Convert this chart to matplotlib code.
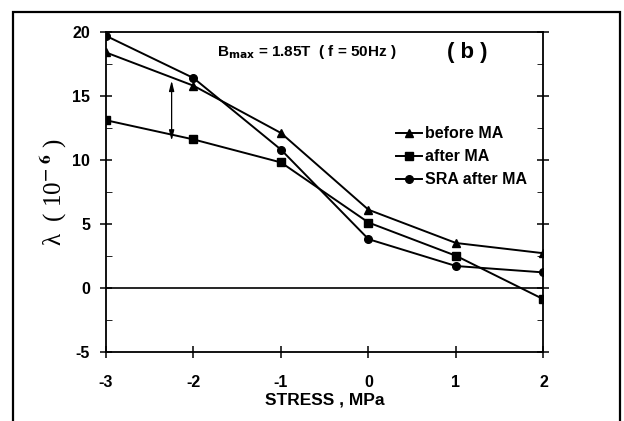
import matplotlib.pyplot as plt
from matplotlib.patches import Rectangle
from matplotlib.ticker import MultipleLocator

# data
stress = [-3, -2, -1, 0, 1, 2]
before_ma = [18.4, 15.8, 12.1, 6.1, 3.5, 2.7]
after_ma = [13.1, 11.6, 9.8, 5.1, 2.5, -0.9]
sra_after_ma = [19.7, 16.4, 10.8, 3.8, 1.7, 1.2]

plt.rcParams['font.family'] = ['Liberation Sans', 'DejaVu Sans']
plt.rcParams['font.weight'] = 'bold'
plt.rcParams['axes.unicode_minus'] = False

fig = plt.figure(figsize=(6.24, 4.21), dpi=100)
ax = fig.add_axes([106 / 624, 1 - 351.7 / 421, (543.5 - 106) / 624, (351.7 - 32) / 421])

# outer frame around the figure
fig.patches.append(Rectangle((13 / 624, -0.02), (620 - 13) / 624, 1 - 12 / 421 + 0.02,
                             transform=fig.transFigure, fill=False, lw=1.6, ec='black'))

ax.plot(stress, before_ma, '-^', color='black', lw=1.4, ms=6, label='before MA')
ax.plot(stress, after_ma, '-s', color='black', lw=1.4, ms=5.5, label='after MA')
ax.plot(stress, sra_after_ma, '-o', color='black', lw=1.4, ms=5.5, label='SRA after MA')

ax.axhline(0, color='black', lw=1.2)

# double-headed arrow between the curves
ax.annotate('', xy=(-2.25, 11.5), xytext=(-2.25, 16.2),
            arrowprops=dict(arrowstyle='<|-|>,head_length=0.6,head_width=0.15',
                            color='black', lw=0.9, shrinkA=0, shrinkB=0))

ax.set_xlim(-3, 2)
ax.set_ylim(-5, 20)
ax.set_xticks(stress)
ax.set_yticks([-5, 0, 5, 10, 15, 20])
ax.yaxis.set_minor_locator(MultipleLocator(2.5))
ax.tick_params(axis='both', which='major', direction='inout', length=9, width=1.1,
               labelsize=11.5)
ax.tick_params(axis='x', which='major', pad=12)
ax.tick_params(axis='y', which='major', pad=7, right=True)
ax.tick_params(axis='y', which='minor', direction='in', length=4, right=True)
for s in ax.spines.values():
    s.set_linewidth(1.3)

for lab in ax.get_xticklabels() + ax.get_yticklabels():
    lab.set_fontweight('bold')

ax.set_xlabel('STRESS , MPa', fontsize=12.5, fontweight='bold', labelpad=2)
ax.set_ylabel('λ  ( 10$^{-\\ 6}$ )', fontsize=18, family='Liberation Serif',
              fontweight='normal', math_fontfamily='stix')
ax.yaxis.set_label_coords(-0.085, 0.5)

ax.text(-1.73, 18.4, r'B$_{\mathbf{max}}$ = 1.85T  ( f = 50Hz )', fontsize=11,
        fontweight='bold', va='center')
ax.text(0.9, 18.4, '( b )', fontsize=16, fontweight='bold', va='center')

ax.legend(loc='upper left', bbox_to_anchor=(0.63, 0.75), frameon=False,
          handlelength=1.6, handletextpad=0.2, labelspacing=0.5,
          prop={'weight': 'bold', 'size': 11.5})

fig.savefig('out.png', dpi=100)
